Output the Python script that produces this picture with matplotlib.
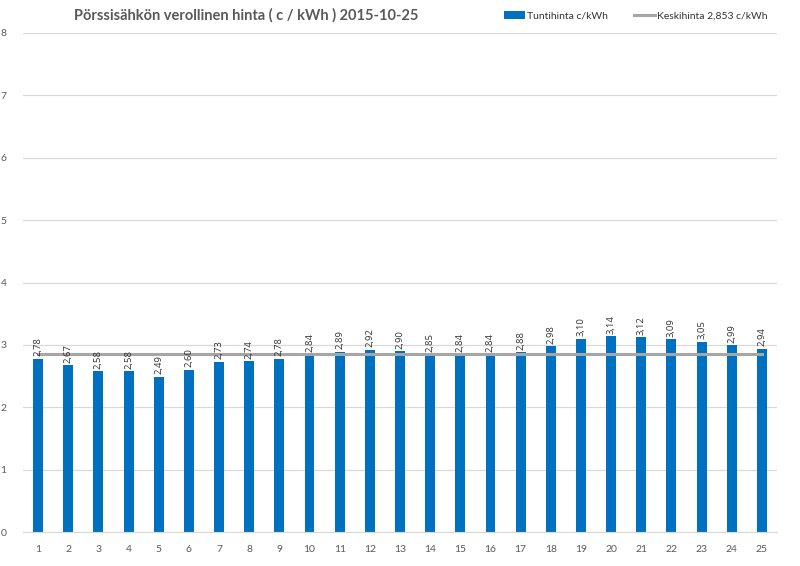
import matplotlib.pyplot as plt

plt.rcParams['font.family'] = ['Lato', 'DejaVu Sans']

hours = list(range(1, 26))
prices = [2.78, 2.67, 2.58, 2.58, 2.49, 2.60, 2.73, 2.74, 2.78, 2.84,
          2.89, 2.92, 2.90, 2.85, 2.84, 2.84, 2.88, 2.98, 3.10, 3.14,
          3.12, 3.09, 3.05, 2.99, 2.94]
average = 2.853
title = 'Pörssisähkön verollinen hinta ( c / kWh ) 2015-10-25'

blue = '#0070c0'
grey = '#a6a6a6'
text_c = '#595959'

fig = plt.figure(figsize=(8, 5.66), dpi=100)
ax = fig.add_axes([23 / 800, 1 - 532 / 566, (777 - 23) / 800, (532 - 33) / 566])

bars = ax.bar(hours, prices, width=0.33, color=blue, zorder=2, label='Tuntihinta c/kWh')
line, = ax.plot([hours[0], hours[-1]], [average, average], color=grey, lw=2.2, zorder=3,
                label='Keskihinta ' + f'{average:.3f}'.replace('.', ',') + ' c/kWh')

for h, p in zip(hours, prices):
    ax.text(h, p + 0.04, f'{p:.2f}'.replace('.', ','), rotation=90, ha='center',
            va='bottom', fontsize=6.8, color='#333333', zorder=4,
            family=['Open Sans', 'DejaVu Sans'])

ax.set_xlim(0.5, 25.5)
ax.set_ylim(0, 8)
ax.set_xticks(hours)
ax.set_yticks(range(0, 9))
ax.tick_params(length=0, colors=text_c, labelsize=7.5)
ax.tick_params(axis='x', pad=9)
ax.tick_params(axis='y', pad=12)
ax.grid(axis='y', color='#d9d9d9', lw=0.9, zorder=0)
for s in ['top', 'right', 'left']:
    ax.spines[s].set_visible(False)
ax.spines['bottom'].set_color('#d9d9d9')

fig.text(246 / 800, 1 - 15 / 566, title, ha='center', va='center',
         fontsize=10.5, fontweight='bold', color=text_c)

ax.legend(handles=[bars, line], loc='center right', bbox_to_anchor=(1.0, 1 + 17 / 499),
          ncol=2, frameon=False, fontsize=7.5, handlelength=2.0, columnspacing=2.5,
          handletextpad=0.2, labelcolor='#333333')

fig.savefig('out.png', dpi=100)
